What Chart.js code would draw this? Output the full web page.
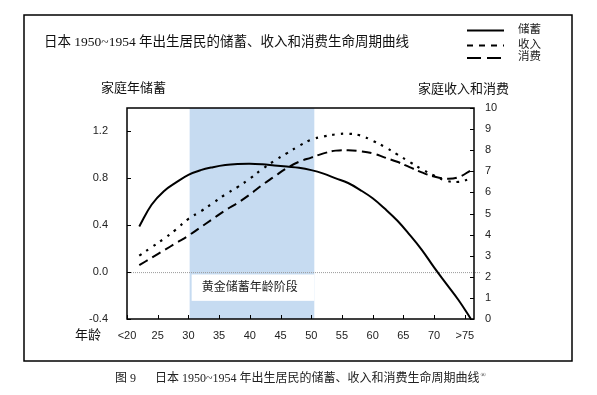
<!DOCTYPE html>
<html>
<head>
<meta charset="utf-8">
<script src="https://cdn.jsdelivr.net/npm/chart.js@4"></script>
<style>
  html, body { margin: 0; padding: 0; background: #fff; }
  canvas { display: block; }
</style>
</head>
<body>
<canvas id="chart" width="597" height="395"></canvas>
<script>
// 年龄 (x) 与三条曲线
const ages = [22, 24, 26, 28, 30, 32, 34, 36, 38, 40, 42, 44, 46, 48, 50, 52, 54, 56, 58, 60, 62, 64, 66, 68, 70, 72, 74, 76];
const savings = [0.39, 0.575, 0.69, 0.765, 0.83, 0.87, 0.895, 0.913, 0.922, 0.925, 0.92, 0.91, 0.90, 0.89, 0.87, 0.84, 0.80, 0.76, 0.70, 0.63, 0.54, 0.44, 0.32, 0.19, 0.04, -0.10, -0.24, -0.40];
const income = [3.0, 3.4, 3.8, 4.25, 4.75, 5.1, 5.5, 5.9, 6.25, 6.65, 7.1, 7.5, 7.85, 8.2, 8.5, 8.65, 8.75, 8.78, 8.7, 8.45, 8.15, 7.8, 7.45, 7.1, 6.8, 6.55, 6.5, 6.65];
const consumption = [2.55, 2.9, 3.25, 3.6, 3.95, 4.35, 4.75, 5.15, 5.5, 5.9, 6.35, 6.75, 7.15, 7.45, 7.65, 7.85, 7.98, 8.0, 7.95, 7.85, 7.65, 7.45, 7.2, 6.95, 6.75, 6.65, 6.72, 7.05];

// 黄金储蓄年龄阶段
const goldenBand = [30.2, 50.5];

const seriesNames = ['储蓄', '收入', '消费'];
const titleText = '日本 1950~1954 年出生居民的储蓄、收入和消费生命周期曲线';
const captionText = '日本 1950~1954 年出生居民的储蓄、收入和消费生命周期曲线';

const serif = '"Liberation Serif", "Noto Sans CJK SC", serif';
const sans = '"Liberation Sans", Arial, sans-serif';

const toPoints = ys => ages.map((a, i) => ({ x: a, y: ys[i] }));

// 背景、框线和文字
const decorations = {
  id: 'decorations',
  beforeDatasetsDraw(chart) {
    const { ctx, chartArea: a, scales } = chart;
    const x = scales.x, yl = scales.yL;
    ctx.save();
    // 蓝色区间
    const bx0 = x.getPixelForValue(goldenBand[0]);
    const bx1 = x.getPixelForValue(goldenBand[1]);
    ctx.fillStyle = '#c6dbf1';
    ctx.fillRect(bx0, a.top, bx1 - bx0, a.bottom - a.top);
    // 零线
    const y0 = yl.getPixelForValue(0);
    ctx.strokeStyle = '#9a9a9a';
    ctx.lineWidth = 1;
    ctx.setLineDash([1, 1]);
    ctx.beginPath();
    ctx.moveTo(a.left, y0 + 0.5);
    ctx.lineTo(a.right + 6, y0 + 0.5);
    ctx.stroke();
    ctx.setLineDash([]);
    // 标签白框
    const by0 = yl.getPixelForValue(-0.02);
    const by1 = yl.getPixelForValue(-0.245);
    ctx.fillStyle = '#fff';
    ctx.fillRect(bx0 + 2, by0, bx1 - bx0 - 2, by1 - by0);
    ctx.fillStyle = '#222';
    ctx.font = '12px ' + serif;
    ctx.textBaseline = 'middle';
    ctx.textAlign = 'left';
    ctx.fillText('黄金储蓄年龄阶段', bx0 + 12, (by0 + by1) / 2);
    ctx.restore();
  },
  afterDraw(chart) {
    const { ctx, chartArea: a, scales } = chart;
    ctx.save();
    // 绘图区边框
    ctx.strokeStyle = '#000';
    ctx.lineWidth = 1.5;
    ctx.strokeRect(a.left, a.top, a.right - a.left, a.bottom - a.top);
    // 向内的刻度
    ctx.lineWidth = 1;
    ctx.beginPath();
    scales.x.ticks.forEach(t => {
      const px = Math.round(scales.x.getPixelForValue(t.value)) + 0.5;
      ctx.moveTo(px, a.bottom);
      ctx.lineTo(px, a.bottom - 4);
    });
    scales.yL.ticks.forEach(t => {
      const py = Math.round(scales.yL.getPixelForValue(t.value)) + 0.5;
      ctx.moveTo(a.left, py);
      ctx.lineTo(a.left + 4, py);
    });
    scales.yR.ticks.forEach(t => {
      const py = Math.round(scales.yR.getPixelForValue(t.value)) + 0.5;
      ctx.moveTo(a.right, py);
      ctx.lineTo(a.right - 4, py);
    });
    ctx.stroke();

    // 外框
    ctx.lineWidth = 1.5;
    ctx.strokeRect(24, 15, 548, 346);

    ctx.fillStyle = '#111';
    ctx.textBaseline = 'middle';
    ctx.textAlign = 'left';
    ctx.font = '13.5px ' + serif;
    ctx.fillText(titleText, 44, 42);

    ctx.font = '13px ' + serif;
    ctx.fillText('家庭年储蓄', 101, 89);
    ctx.fillText('家庭收入和消费', 418, 90);
    ctx.fillText('年龄', 75, 336);

    // 图例
    const dashes = [[], [6, 6], [14, 6]];
    const ly = [30.5, 45.5, 58];
    ctx.lineWidth = 2;
    ctx.strokeStyle = '#000';
    dashes.forEach((d, i) => {
      ctx.setLineDash(d);
      ctx.beginPath();
      ctx.moveTo(467, ly[i]);
      ctx.lineTo(504, ly[i]);
      ctx.stroke();
    });
    ctx.setLineDash([]);
    ctx.font = '11.5px ' + serif;
    ctx.fillStyle = '#222';
    seriesNames.forEach((n, i) => ctx.fillText(n, 518, ly[i] - 1));

    // 图注
    ctx.font = '12px ' + serif;
    ctx.fillStyle = '#222';
    ctx.fillText('图 9', 115, 379);
    ctx.fillText(captionText, 155, 379);
    const w = ctx.measureText(captionText).width;
    ctx.font = '7px ' + serif;
    ctx.fillText('®', 155 + w + 1, 375);
    ctx.restore();
  }
};

const tickFont = { family: sans, size: 11 };

new Chart(document.getElementById('chart'), {
  type: 'line',
  data: {
    datasets: [
      {
        label: seriesNames[0],
        data: toPoints(savings),
        yAxisID: 'yL',
        borderColor: '#000',
        borderWidth: 2,
        pointRadius: 0,
        tension: 0.4
      },
      {
        label: seriesNames[1],
        data: toPoints(income),
        yAxisID: 'yR',
        borderColor: '#000',
        borderWidth: 2.2,
        borderDash: [2.5, 6],
        pointRadius: 0,
        tension: 0.4
      },
      {
        label: seriesNames[2],
        data: toPoints(consumption),
        yAxisID: 'yR',
        borderColor: '#000',
        borderWidth: 2,
        borderDash: [10, 5],
        pointRadius: 0,
        tension: 0.4
      }
    ]
  },
  options: {
    responsive: false,
    animation: false,
    layout: { padding: { top: 108, left: 0, right: 0, bottom: 0 } },
    plugins: {
      legend: { display: false },
      tooltip: { enabled: false }
    },
    scales: {
      x: {
        type: 'linear',
        min: 20,
        max: 76.5,
        afterFit: s => { s.height = 76; },
        grid: { display: false, drawTicks: false },
        border: { display: false },
        ticks: {
          stepSize: 5,
          includeBounds: false,
          autoSkip: false,
          padding: 10,
          color: '#222',
          font: tickFont,
          maxRotation: 0,
          callback: v => v === 20 ? '<20' : (v === 75 ? '>75' : v)
        }
      },
      yL: {
        position: 'left',
        min: -0.4,
        max: 1.4,
        afterFit: s => { s.width = 127; },
        grid: { display: false, drawTicks: false },
        border: { display: false },
        ticks: {
          stepSize: 0.4,
          includeBounds: false,
          padding: 19,
          color: '#222',
          font: tickFont,
          callback: v => v.toFixed(1)
        }
      },
      yR: {
        position: 'right',
        min: 0,
        max: 10,
        afterFit: s => { s.width = 123; },
        grid: { display: false, drawTicks: false },
        border: { display: false },
        ticks: {
          stepSize: 1,
          padding: 11,
          color: '#222',
          font: tickFont
        }
      }
    }
  },
  plugins: [decorations]
});
</script>
</body>
</html>
